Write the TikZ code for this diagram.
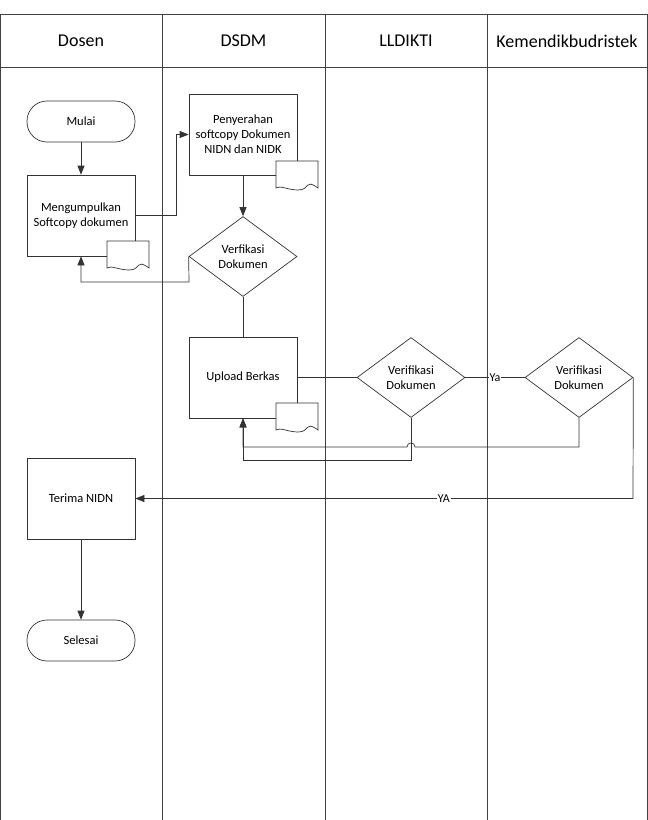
\documentclass[tikz,border=0pt]{standalone}
\usepackage{fontspec}
\setmainfont{Carlito}
\usetikzlibrary{shapes.geometric,arrows.meta}
\tikzset{
  lane/.style={line width=0.9pt, draw=black!75},
  hdr/.style={font=\fontsize{18}{21}\selectfont, inner sep=0pt},
  proc/.style={draw=black!80, line width=0.7pt, fill=white, minimum width=108pt, minimum height=81pt, align=center, font=\fontsize{12.5}{15}\selectfont, inner sep=1pt},
  term/.style={draw=black!80, line width=0.7pt, fill=white, rounded corners=20pt, minimum width=108pt, minimum height=41pt, font=\fontsize{12.5}{15}\selectfont},
  dec/.style={draw=black!80, line width=0.7pt, fill=white, diamond, minimum width=108pt, minimum height=80pt, align=center, inner sep=0pt, font=\fontsize{12.5}{15}\selectfont},
  conn/.style={line width=0.7pt, draw=black!80},
  arr/.style={conn, -{Triangle[length=9pt,width=7pt]}},
  lbl/.style={fill=white, inner sep=1pt, font=\fontsize{12}{14}\selectfont},
  docs/.style={draw=black!80, line width=0.7pt, fill=white}
}
\newcommand{\docat}[2]{%
  \draw[docs] (#1,#2) -- ++(42,0) -- ++(0,27) .. controls ++(-14,-10) and ++(13,0) .. ++(-20,2) .. controls ++(-10,0) and ++(4,-3) .. ++(-22,-2) -- cycle;}
\begin{document}
\begin{tikzpicture}[x=1pt,y=-1pt]
\useasboundingbox (0,0) rectangle (648,820);
% lanes
\draw[lane] (0.5,14) -- (647,14);
\draw[lane] (0.5,67) -- (647,67);
\foreach \xx in {0.5,162,325,487,647} \draw[lane] (\xx,14) -- (\xx,820);
\node[hdr] (h1) at (81,41) {Dosen};
\node[hdr] (h2) at (243.5,41) {DSDM};
\node[hdr] (h3) at (406,41) {LLDIKTI};
\node[hdr] (h4) at (567,41) {Kemendikbudristek};
% nodes
\node[term] (mulai) at (81,121.5) {Mulai};
\node[proc] (kumpul) at (81,215.5) {Mengumpulkan\\Softcopy dokumen};
\docat{107}{241}
\node[proc] (serah) at (243,134.5) {Penyerahan\\softcopy Dokumen\\NIDN dan NIDK};
\docat{276}{161}
\node[dec] (ver1) at (243,256.5) {Verfikasi\\Dokumen};
\node[proc] (upload) at (243,377.5) {Upload Berkas};
\docat{276}{403}
\node[dec] (ver2) at (411,377.5) {Verifikasi\\Dokumen};
\node[dec] (ver3) at (579,377.5) {Verifikasi\\Dokumen};
\node[proc] (terima) at (81,498.5) {Terima NIDN};
\node[term] (selesai) at (81,640.5) {Selesai};
% connectors
\draw[arr] (mulai) -- (kumpul);
\draw[arr] (kumpul.east) -- (176,215.5) |- (serah.west);
\draw[arr] (serah) -- (ver1);
\draw[arr] (ver1.west) -- (189,282) -| (kumpul.south);
\draw[conn] (ver1.south) -- (upload.north);
\draw[conn] (upload.east) -- (ver2.west);
\draw[conn] (ver2.east) -- node[lbl] {Ya} (ver3.west);
\draw[arr] (ver2.south) -- (411,460) -| (upload.south);
\draw[arr] (ver3.south) -- (579,447) -- (415,447) .. controls (415,441.5) and (407,441.5) .. (407,447) -- (243,447) -- (upload.south);
\draw[arr] (ver3.east) -- (633,498.5) -- node[lbl,pos=0.38] {YA} (terima.east);
\draw[arr] (terima) -- (selesai);
\end{tikzpicture}
\end{document}
